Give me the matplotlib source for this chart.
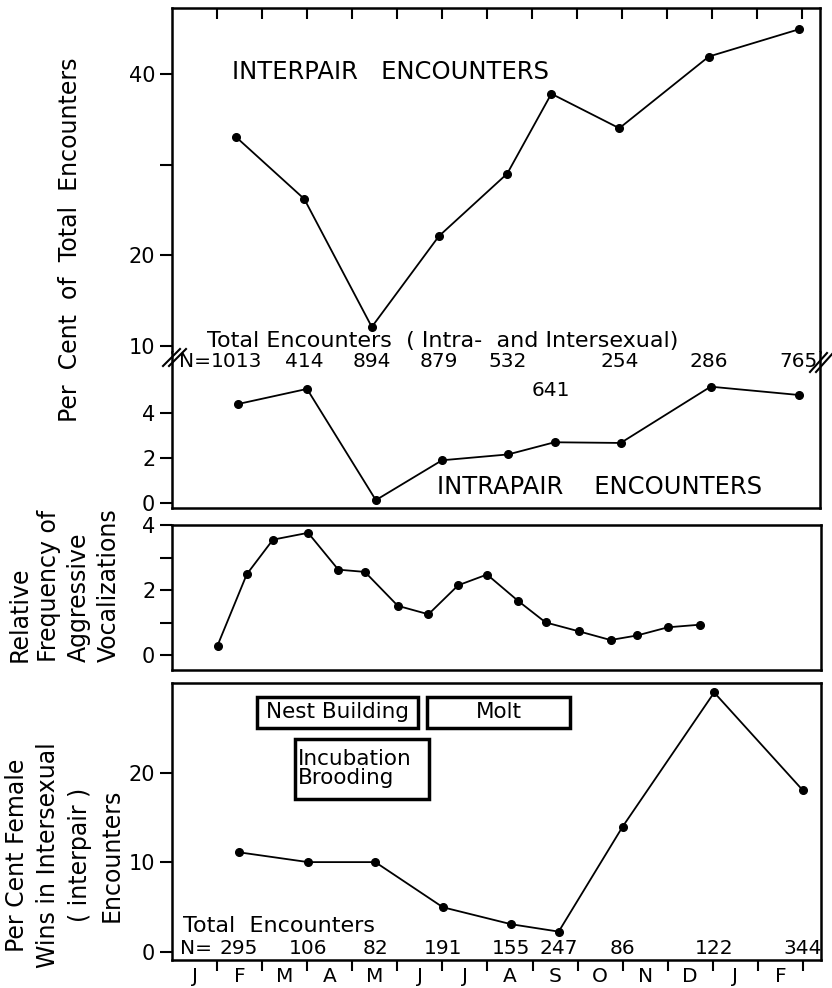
import matplotlib
matplotlib.use('Agg')
import matplotlib.pyplot as plt
from matplotlib.patches import Rectangle
from matplotlib.lines import Line2D

plt.rcParams['font.family'] = 'DejaVu Sans'

months = ['J', 'F', 'M', 'A', 'M', 'J', 'J', 'A', 'S', 'O', 'N', 'D', 'J', 'F']

# top panel: per cent of total encounters
inter_x = [1.43, 2.94, 4.44, 5.93, 7.45, 8.43, 9.94, 11.93, 13.93]
inter_pct = [33.0, 26.2, 12.1, 22.1, 29.0, 37.8, 34.0, 41.9, 44.9]
intra_x = [1.47, 3.0, 4.53, 6.0, 7.47, 8.5, 9.97, 11.97, 13.93]
intra_pct = [4.4, 5.07, 0.13, 1.9, 2.16, 2.7, 2.67, 5.17, 4.8]
n_total = ['1013', '414', '894', '879', '532', '641', '254', '286', '765']

# middle panel: aggressive vocalizations
voc_x = [1.01, 1.66, 2.24, 3.02, 3.69, 4.28, 5.01, 5.69, 6.35, 6.99,
         7.68, 8.29, 9.02, 9.73, 10.32, 11.0, 11.71]
voc_freq = [0.30, 2.49, 3.55, 3.76, 2.63, 2.56, 1.52, 1.26, 2.15, 2.48,
            1.67, 1.01, 0.74, 0.47, 0.61, 0.86, 0.94]

# bottom panel: female wins
wins_x = [1.48, 3.02, 4.51, 6.01, 7.53, 8.58, 10.0, 12.03, 14.0]
wins_pct = [11.1, 10.0, 10.0, 4.96, 3.06, 2.24, 13.97, 28.94, 18.0]
wins_n = ['295', '106', '82', '191', '155', '247', '86', '122', '344']

phase_names = ['Nest Building', 'Molt', 'Incubation\nBrooding']
phase_start = [1.89, 5.66, 2.72]
phase_end = [5.46, 8.83, 5.71]

W, H = 832, 988
fig = plt.figure(figsize=(W / 100, H / 100), dpi=100)


def fax(l, t, r, b):
    return fig.add_axes([l / W, 1 - b / H, (r - l) / W, (b - t) / H])


ax_hi = fax(172, 8, 820, 352)
ax_lo = fax(172, 352, 820, 508)
ax_voc = fax(172, 525, 821, 670)
ax_win = fax(172, 683, 821, 960)

line_kw = dict(color='black', lw=1.3, marker='o', ms=5.5)
for ax in (ax_hi, ax_lo, ax_voc, ax_win):
    ax.set_xlim(0, 14.4)
    for s in ax.spines.values():
        s.set_linewidth(1.8)
    ax.tick_params(axis='y', direction='out', length=9, width=1.5, labelsize=15, pad=3)
    ax.tick_params(axis='y', which='minor', direction='out', length=9, width=1.5)
    ax.tick_params(axis='x', which='both', bottom=False, top=False, labelbottom=False)

# top, upper part
ax_hi.plot(inter_x, inter_pct, **line_kw)
ax_hi.set_ylim(9.34, 47.25)
ax_hi.set_yticks([10, 20, 40])
ax_hi.set_yticks([30], minor=True)
ax_hi.spines['bottom'].set_visible(False)
ax_hi.set_xticks(range(1, 15))
ax_hi.tick_params(axis='x', top=True, direction='in', length=8, width=1.5)
ax_hi.text(0.093, 0.814, 'INTERPAIR   ENCOUNTERS', transform=ax_hi.transAxes,
           fontsize=17.5, va='center', ha='left')
ax_hi.text(0.054, 0.032, 'Total Encounters  ( Intra-  and Intersexual)',
           transform=ax_hi.transAxes, fontsize=16, va='center', ha='left')

# top, lower part
ax_lo.plot(intra_x, intra_pct, **line_kw)
ax_lo.set_ylim(-0.22, 6.71)
ax_lo.set_yticks([0, 2, 4])
ax_lo.spines['top'].set_visible(False)
ax_lo.text(0.409, 0.135, 'INTRAPAIR    ENCOUNTERS', transform=ax_lo.transAxes,
           fontsize=17.5, va='center', ha='left')
for x, n in zip(inter_x, n_total):
    y = 4.98 if n == '641' else 6.27
    ax_lo.text(x, y, n, fontsize=14.5, ha='center', va='center', clip_on=False)
ax_lo.annotate('N=', (inter_x[0], 6.27), xytext=(-18, 0), textcoords='offset points',
               fontsize=14.5, ha='right', va='center')

# axis break marks
for x0 in (163, 169):
    fig.add_artist(Line2D([x0 / W, (x0 + 17) / W], [1 - 366 / H, 1 - 349 / H],
                          color='black', lw=1.5))
for x0 in (810, 816):
    fig.add_artist(Line2D([x0 / W, (x0 + 17) / W], [1 - 372 / H, 1 - 353 / H],
                          color='black', lw=1.5))

# vocalizations
ax_voc.plot(voc_x, voc_freq, **line_kw)
ax_voc.set_ylim(-0.45, 4.0)
ax_voc.set_yticks([0, 2, 4])
ax_voc.set_yticks([1, 3], minor=True)

# female wins
ax_win.plot(wins_x, wins_pct, **line_kw)
ax_win.set_ylim(-0.93, 30.0)
ax_win.set_yticks([0, 10, 20])
ax_win.set_xticks(range(1, 15))
ax_win.set_xticks([m + 0.5 for m in range(14)], minor=True)
ax_win.set_xticklabels(months, minor=True)
ax_win.tick_params(axis='x', which='major', bottom=True, direction='out',
                   length=8, width=1.5)
ax_win.tick_params(axis='x', which='minor', bottom=True, length=0,
                   labelbottom=True, labelsize=14.5, pad=5)
ax_win.text(0.017, 0.123, 'Total  Encounters', transform=ax_win.transAxes,
            fontsize=16, va='center', ha='left')
ax_win.text(0.012, 0.043, 'N=', transform=ax_win.transAxes,
            fontsize=14.5, va='center', ha='left')
for x, n in zip(wins_x, wins_n):
    ax_win.text(x, 0.043, n, transform=ax_win.get_xaxis_transform(),
                fontsize=14.5, ha='center', va='center')

box_y = [(25.0, 28.46), (25.0, 28.46), (17.06, 23.77)]
for name, x0, x1, (y0, y1) in zip(phase_names, phase_start, phase_end, box_y):
    ax_win.add_patch(Rectangle((x0, y0), x1 - x0, y1 - y0, fill=False,
                               lw=2.5, edgecolor='black'))
    if '\n' in name:
        ax_win.text(x0 + 0.08, (y0 + y1) / 2, name, fontsize=15.5, ha='left',
                    va='center', linespacing=0.95)
    else:
        ax_win.text((x0 + x1) / 2, (y0 + y1) / 2, name, fontsize=15.5,
                    ha='center', va='center')

# y labels
fig.text(70 / W, 1 - 240 / H, 'Per  Cent  of  Total  Encounters', rotation=90,
         ha='center', va='center', fontsize=17)
fig.text(64 / W, 1 - 662 / H, 'Relative\nFrequency of\nAggressive\nVocalizations',
         rotation=90, ha='center', va='bottom', multialignment='left',
         fontsize=17, linespacing=1.3)
fig.text(64 / W, 1 - 855 / H, 'Per Cent Female\nWins in Intersexual\n( interpair )\nEncounters',
         rotation=90, ha='center', va='center', multialignment='center',
         fontsize=17, linespacing=1.4)

fig.savefig('out.png', dpi=100)
